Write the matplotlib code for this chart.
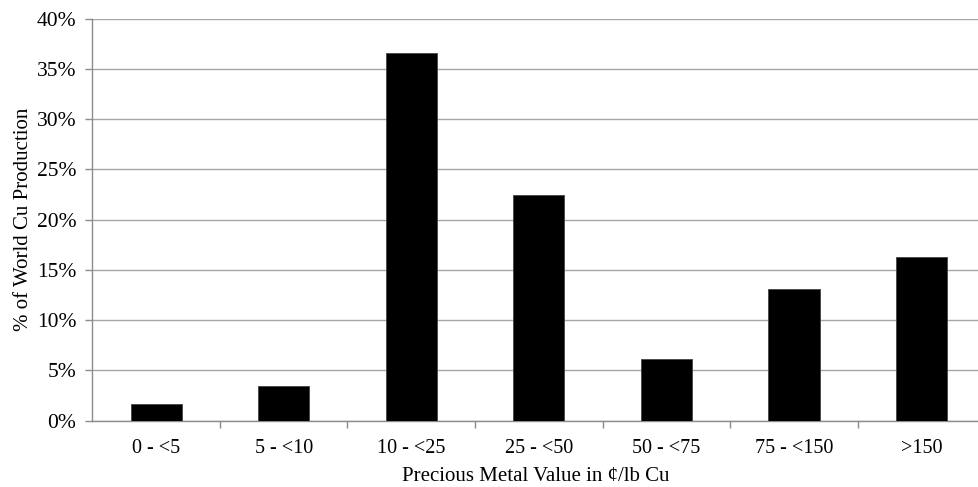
import numpy as np
import matplotlib.pyplot as plt
from matplotlib.ticker import FuncFormatter

categories = ["0 - <5", "5 - <10", "10 - <25", "25 - <50", "50 - <75", "75 - <150", ">150"]
shares = [1.7, 3.5, 36.6, 22.5, 6.1, 13.1, 16.3]

plt.rcParams['font.family'] = ['Liberation Serif', 'DejaVu Serif']

fig = plt.figure(figsize=(9.79, 4.87), dpi=100)
ax = fig.add_axes([92.3 / 979, 66.3 / 487, 1 - 92.3 / 979, 402 / 487])

x = np.arange(len(categories))
ax.bar(x, shares, width=0.4, color="black", edgecolor="#444444", linewidth=0.6, zorder=3)

ax.set_ylim(0, 40)
ax.set_yticks(np.arange(0, 41, 5))
ax.yaxis.set_major_formatter(FuncFormatter(lambda v, p: f"{v:.0f}%"))
ax.set_xlim(-0.5, 6.45)
ax.set_xticks(x)
ax.set_xticklabels(categories)
ax.set_xticks(np.arange(0.5, 6.5, 1), minor=True)

ax.grid(axis="y", color="#a6a6a6", linewidth=1.0, zorder=0)
for s in ["top", "right"]:
    ax.spines[s].set_visible(False)
for s in ["left", "bottom"]:
    ax.spines[s].set_color("#8c8c8c")
    ax.spines[s].set_linewidth(1.0)

ax.tick_params(axis="y", length=5, width=1, color="#8c8c8c", pad=6.5, labelsize=15.5)
ax.tick_params(axis="x", which="major", length=0, pad=13, labelsize=14.5)
ax.tick_params(axis="x", which="minor", length=5, width=1, color="#8c8c8c")

ax.set_xlabel("Precious Metal Value in ¢/lb Cu", fontsize=15, labelpad=7)
ax.set_ylabel("% of World Cu Production", fontsize=15, labelpad=3)

fig.savefig("out.png", dpi=100)
